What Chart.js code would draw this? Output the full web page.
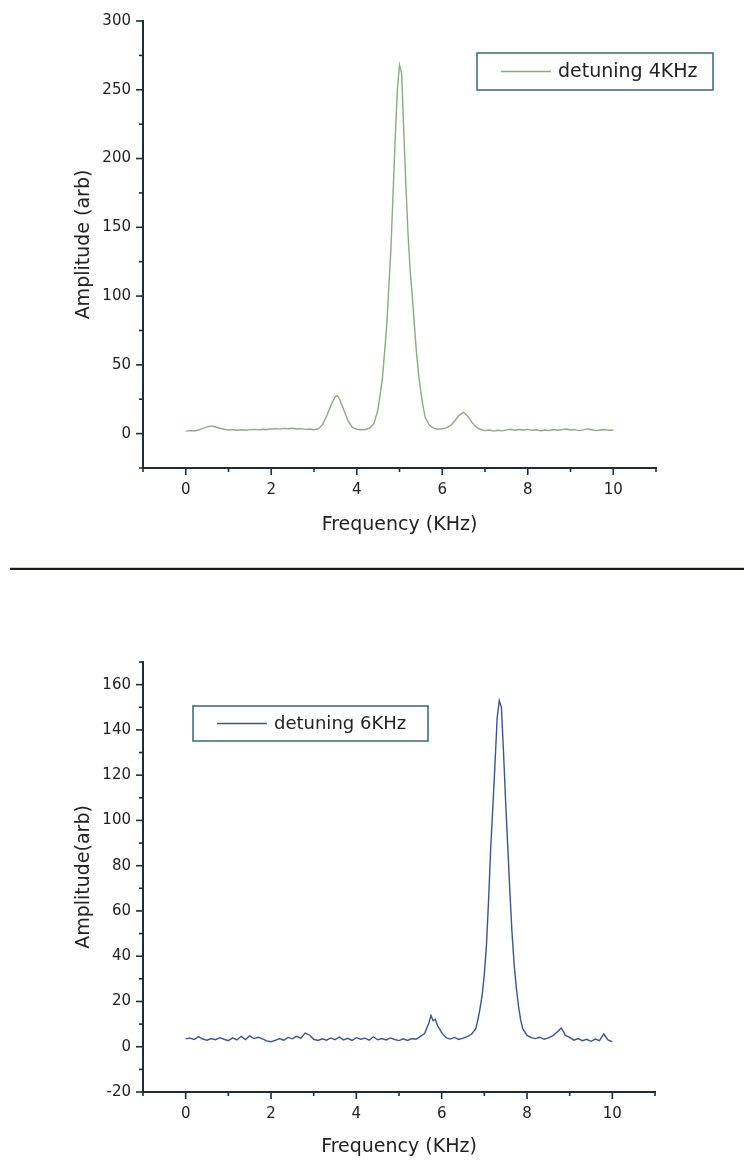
<!DOCTYPE html>
<html>
<head>
<meta charset="utf-8">
<script src="https://cdn.jsdelivr.net/npm/chart.js@4.4.1/dist/chart.umd.min.js"></script>
<style>
  html, body { margin: 0; padding: 0; background: #fff; }
  body { width: 744px; height: 1160px; position: relative; overflow: hidden; }
  .box { position: absolute; left: 0; width: 744px; }
  #top { top: 0; height: 560px; }
  #bottom { top: 580px; height: 580px; }
  #rule { position: absolute; left: 10px; top: 567px; width: 734px; height: 2px; background: #1f1d1b; border-top: 1px solid #f1c5aa; }
</style>
</head>
<body>
<div class="box" id="top"><canvas id="c1"></canvas></div>
<div id="rule"></div>
<div class="box" id="bottom"><canvas id="c2"></canvas></div>
<script>
// detuning 4KHz spectrum
const freq4 = [
  0.0, 0.1, 0.2, 0.3, 0.4, 0.5, 0.6, 0.7, 0.8, 0.9,
  1.0, 1.1, 1.2, 1.3, 1.4, 1.5, 1.6, 1.7, 1.8, 1.9,
  2.0, 2.1, 2.2, 2.3, 2.4, 2.5, 2.6, 2.7, 2.8, 2.9,
  3.0, 3.1, 3.2, 3.3, 3.4, 3.5, 3.55, 3.6, 3.7, 3.8, 3.9,
  4.0, 4.1, 4.2, 4.3, 4.4, 4.5, 4.6, 4.7, 4.8, 4.85,
  4.9, 4.95, 5.0, 5.05, 5.1, 5.15, 5.2, 5.25, 5.3, 5.35,
  5.4, 5.45, 5.5, 5.55, 5.6, 5.7, 5.8, 5.9,
  6.0, 6.1, 6.2, 6.3, 6.4, 6.5, 6.6, 6.7, 6.8, 6.9,
  7.0, 7.1, 7.2, 7.3, 7.4, 7.5, 7.6, 7.7, 7.8, 7.9,
  8.0, 8.1, 8.2, 8.3, 8.4, 8.5, 8.6, 8.7, 8.8, 8.9,
  9.0, 9.1, 9.2, 9.3, 9.4, 9.5, 9.6, 9.7, 9.8, 9.9, 10.0
];
const amp4 = [
  1.8, 2.2, 1.9, 2.6, 3.8, 4.9, 5.6, 4.8, 3.9, 3.2,
  2.6, 2.9, 2.4, 2.8, 2.5, 2.9, 3.1, 2.7, 3.2, 3.0,
  3.4, 3.6, 3.3, 3.8, 3.5, 3.9, 3.4, 3.6, 3.1, 3.3,
  2.8, 3.4, 6.5, 13, 21, 27, 27.5, 25, 17, 9, 4.5,
  3.2, 2.8, 3.0, 4, 7, 18, 40, 78, 135, 175,
  215, 250, 268, 262, 220, 180, 145, 118, 100, 78,
  58, 42, 30, 20, 12, 6, 4, 3.2,
  3.5, 4.2, 6, 9.5, 13.5, 15.5, 12.5, 8, 4.5, 3,
  2.2, 2.6, 1.8, 2.4, 2.0, 2.7, 3.2, 2.5, 3.0, 2.6,
  3.1, 2.4, 2.8, 2.1, 2.6, 2.3, 3.0, 2.5, 2.9, 3.3,
  2.6, 2.9, 2.2, 2.7, 3.4, 2.8, 2.2, 2.6, 3.0, 2.4, 2.6
];

// detuning 6KHz spectrum
const freq6 = [
  0.0, 0.1, 0.2, 0.3, 0.4, 0.5, 0.6, 0.7, 0.8, 0.9,
  1.0, 1.1, 1.2, 1.3, 1.4, 1.5, 1.6, 1.7, 1.8, 1.9,
  2.0, 2.1, 2.2, 2.3, 2.4, 2.5, 2.6, 2.7, 2.8, 2.9,
  3.0, 3.1, 3.2, 3.3, 3.4, 3.5, 3.6, 3.7, 3.8, 3.9,
  4.0, 4.1, 4.2, 4.3, 4.4, 4.5, 4.6, 4.7, 4.8, 4.9,
  5.0, 5.1, 5.2, 5.3, 5.4, 5.5, 5.6, 5.7, 5.75, 5.8, 5.85, 5.9,
  6.0, 6.1, 6.2, 6.3, 6.4, 6.5, 6.6, 6.7, 6.8, 6.85,
  6.9, 6.95, 7.0, 7.05, 7.1, 7.15, 7.2, 7.25, 7.3, 7.35,
  7.4, 7.45, 7.5, 7.55, 7.6, 7.65, 7.7, 7.75, 7.8, 7.85,
  7.9, 8.0, 8.1, 8.2, 8.3, 8.4, 8.5, 8.6, 8.7, 8.8, 8.85,
  8.9, 9.0, 9.1, 9.2, 9.3, 9.4, 9.5, 9.6, 9.7, 9.8, 9.85, 9.9, 10.0
];
const amp6 = [
  3.5, 3.8, 3.2, 4.5, 3.4, 2.9, 3.6, 3.1, 4.0, 3.3,
  2.7, 3.9, 3.0, 4.6, 3.2, 4.8, 3.6, 4.2, 3.5, 2.6,
  2.2, 2.8, 3.6, 2.9, 4.1, 3.5, 4.6, 3.8, 6.0, 5.2,
  3.3, 2.8, 3.5, 2.9, 3.9, 3.1, 4.3, 3.0, 3.7, 2.8,
  4.0, 3.3, 3.8, 2.9, 4.4, 3.1, 3.6, 3.0, 3.9, 3.2,
  2.7, 3.5, 2.8, 3.6, 3.3, 4.6, 5.8, 10.5, 13.8, 11.5, 12.2, 9.5,
  6.2, 4.0, 3.4, 4.1, 3.2, 3.8, 4.5, 5.5, 8, 12,
  17, 23, 32, 45, 65, 88, 106, 125, 145, 153,
  150, 130, 108, 88, 68, 50, 36, 26, 18, 12,
  8, 5, 4.0, 3.6, 4.2, 3.3, 3.9, 4.8, 6.4, 8.2, 6.9,
  5.0, 4.1, 2.9, 3.6, 2.7, 3.3, 2.4, 3.4, 2.7, 5.7, 4.2, 3.0, 2.1
];

const AXIS = '#1d2e36';
const TEXT = '#222';
const FONT = 'DejaVu Sans';

// Origin-style tick marks: long at labelled ticks, short at the others
const tickMarks = {
  id: 'tickMarks',
  afterDraw(chart) {
    const ctx = chart.ctx;
    const { x, y } = chart.scales;
    ctx.save();
    ctx.strokeStyle = AXIS;
    ctx.lineWidth = 1.6;
    x.ticks.forEach(t => {
      const px = x.getPixelForValue(t.value);
      const len = t.label !== '' ? 7 : 4;
      ctx.beginPath();
      ctx.moveTo(px, x.top);
      ctx.lineTo(px, x.top + len);
      ctx.stroke();
    });
    y.ticks.forEach(t => {
      const py = y.getPixelForValue(t.value);
      const len = t.label !== '' ? 7 : 4;
      ctx.beginPath();
      ctx.moveTo(y.right, py);
      ctx.lineTo(y.right - len, py);
      ctx.stroke();
    });
    ctx.restore();
  }
};

// framed legend sitting inside the plot
const boxLegend = {
  id: 'boxLegend',
  afterDraw(chart, args, opts) {
    const ds = chart.data.datasets[0];
    const ctx = chart.ctx;
    const my = opts.y + opts.h / 2;
    ctx.save();
    ctx.strokeStyle = '#44707e';
    ctx.lineWidth = 1.6;
    ctx.strokeRect(opts.x, opts.y, opts.w, opts.h);
    ctx.strokeStyle = ds.borderColor;
    ctx.lineWidth = 1.4;
    ctx.beginPath();
    ctx.moveTo(opts.x + 24, my);
    ctx.lineTo(opts.x + 74, my);
    ctx.stroke();
    ctx.fillStyle = TEXT;
    ctx.font = opts.size + 'px "' + FONT + '"';
    ctx.textBaseline = 'middle';
    ctx.fillText(ds.label, opts.x + 81, my + 1);
    ctx.restore();
  }
};

function makeChart(id, cfg) {
  const points = cfg.freq.map((f, i) => ({ x: f, y: cfg.amp[i] }));
  return new Chart(document.getElementById(id), {
    type: 'line',
    data: {
      datasets: [{
        label: cfg.label,
        data: points,
        borderColor: cfg.color,
        borderWidth: 1.4,
        pointRadius: 0,
        tension: 0,
        fill: false
      }]
    },
    options: {
      responsive: true,
      maintainAspectRatio: false,
      animation: false,
      layout: { padding: cfg.padding },
      plugins: {
        legend: { display: false },
        tooltip: { enabled: false },
        boxLegend: cfg.legendBox
      },
      scales: {
        x: {
          type: 'linear',
          min: -1,
          max: 11,
          afterFit: s => { s.height = cfg.xHeight; },
          border: { display: true, color: AXIS, width: 2 },
          grid: { drawOnChartArea: false, drawTicks: false },
          ticks: {
            stepSize: 1,
            autoSkip: false,
            maxRotation: 0,
            padding: 13,
            color: TEXT,
            font: { family: FONT, size: 15 },
            callback: v => (v % 2 === 0 && v >= 0 && v <= 10) ? v : ''
          },
          title: {
            display: true,
            text: 'Frequency (KHz)',
            color: TEXT,
            font: { family: FONT, size: 19 },
            padding: { top: 0, bottom: cfg.xTitlePad }
          }
        },
        y: {
          min: cfg.yMin,
          max: cfg.yMax,
          afterFit: s => { s.width = 143; },
          border: { display: true, color: AXIS, width: 2 },
          grid: { drawOnChartArea: false, drawTicks: false },
          ticks: {
            stepSize: cfg.yStep,
            autoSkip: false,
            padding: 12,
            color: TEXT,
            font: { family: FONT, size: 15 },
            callback: v => (v % cfg.yLabelStep === 0 && v >= cfg.yLabelMin && v <= cfg.yLabelMax) ? v : ''
          },
          title: {
            display: true,
            text: cfg.yTitle,
            color: TEXT,
            font: { family: FONT, size: 19 },
            padding: { top: 73, bottom: 0 }
          }
        }
      }
    },
    plugins: [tickMarks, boxLegend]
  });
}

makeChart('c1', {
  freq: freq4, amp: amp4,
  label: 'detuning 4KHz', color: '#8aab84',
  yMin: -25, yMax: 300, yStep: 25, yLabelStep: 50, yLabelMin: 0, yLabelMax: 300,
  yTitle: 'Amplitude (arb)',
  padding: { left: 0, top: 20, right: 88, bottom: 22 },
  xHeight: 70, xTitlePad: 2,
  legendBox: { x: 477, y: 53, w: 236, h: 37, size: 19 }
});

makeChart('c2', {
  freq: freq6, amp: amp6,
  label: 'detuning 6KHz', color: '#3a5590',
  yMin: -20, yMax: 170, yStep: 10, yLabelStep: 20, yLabelMin: -20, yLabelMax: 160,
  yTitle: 'Amplitude(arb)',
  padding: { left: 0, top: 82, right: 89, bottom: 2 },
  xHeight: 66, xTitlePad: 0,
  legendBox: { x: 193, y: 126, w: 235, h: 35, size: 18 }
});
</script>
</body>
</html>
